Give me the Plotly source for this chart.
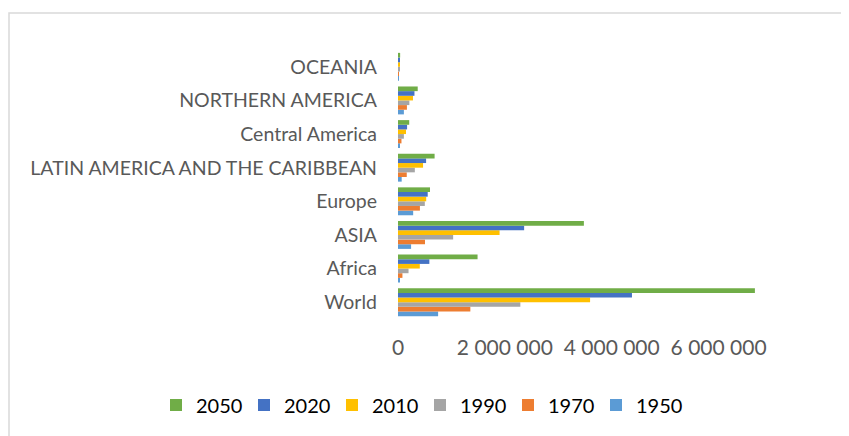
import plotly.graph_objects as go

regions = ["World", "Africa", "ASIA", "Europe", "LATIN AMERICA AND THE CARIBBEAN",
           "Central America", "NORTHERN AMERICA", "OCEANIA"]
years = ["1950", "1970", "1990", "2010", "2020", "2050"]

v1950 = [751000, 33000, 245000, 284000, 69000, 30000, 110000, 8000]
v1970 = [1354000, 83000, 506000, 410000, 164000, 65000, 167000, 14000]
v1990 = [2290000, 197000, 1032000, 502000, 315000, 110000, 213000, 19000]
v2010 = [3595000, 408000, 1901000, 528000, 469000, 150000, 280000, 26000]
v2020 = [4379000, 587000, 2361000, 556000, 526000, 170000, 308000, 29000]
v2050 = [6680000, 1489000, 3479000, 599000, 685000, 210000, 369000, 40000]

series = [v1950, v1970, v1990, v2010, v2020, v2050]
colors = ["#5B9BD5", "#ED7D31", "#A5A5A5", "#FFC000", "#4472C4", "#70AD47"]

OFF = 8  # page body margin
W, H = 849 - OFF, 436 - OFF
L, T = 398 - OFF, 50 - OFF
PW, PH = 374, 269
R = W - L - PW
B = H - T - PH

fig = go.Figure()
for name, vals, col in zip(years, series, colors):
    fig.add_trace(go.Bar(y=regions, x=vals, name=name, orientation="h",
                         marker=dict(color=col, line=dict(width=0))))

def px_x(p):
    return (p - OFF - L) / PW

def px_y(p):
    return (T + PH - (p - OFF)) / PH

fig.update_layout(
    width=W, height=H,
    margin=dict(l=L, r=R, t=T, b=B, pad=0),
    barmode="group", bargap=0.17, bargroupgap=0,
    paper_bgcolor="white", plot_bgcolor="white",
    separators=". ",
    font=dict(family="Lato", color="#595959", size=19),
    xaxis=dict(range=[0, 7000000], dtick=2000000, tickformat=",d",
               showgrid=False, zeroline=False, showline=False,
               ticklabelstandoff=14, tickfont=dict(size=21, color="#595959")),
    yaxis=dict(showgrid=False, zeroline=False, showline=False,
               ticklabelstandoff=20, tickfont=dict(size=19.5, color="#595959")),
    legend=dict(orientation="h", traceorder="reversed",
                x=px_x(156), xanchor="left", y=px_y(405), yanchor="middle",
                entrywidth=43, font=dict(size=20, color="#000000"),
                itemclick=False),
    shapes=[dict(type="rect", xref="paper", yref="paper",
                 x0=px_x(9), x1=px_x(880), y0=px_y(470), y1=px_y(13),
                 line=dict(color="#D9D9D9", width=1.5), fillcolor="rgba(0,0,0,0)",
                 layer="below")],
)

fig.write_html("out.html")
